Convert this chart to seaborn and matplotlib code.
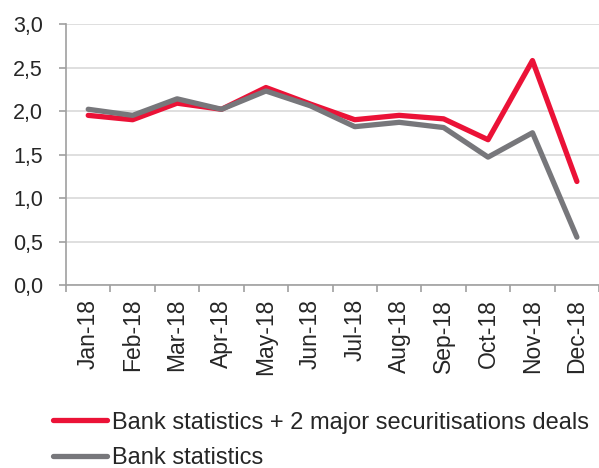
import pandas as pd
import matplotlib
matplotlib.use("Agg")
import matplotlib.pyplot as plt
import seaborn as sns
from matplotlib.ticker import FuncFormatter, FixedLocator

months = ["Jan-18", "Feb-18", "Mar-18", "Apr-18", "May-18", "Jun-18",
          "Jul-18", "Aug-18", "Sep-18", "Oct-18", "Nov-18", "Dec-18"]
with_deals = [1.95, 1.90, 2.09, 2.02, 2.27, 2.08, 1.90, 1.95, 1.91, 1.67, 2.58, 1.19]
bank_stats = [2.02, 1.95, 2.14, 2.02, 2.23, 2.06, 1.82, 1.87, 1.81, 1.47, 1.75, 0.55]
series_names = ["Bank statistics + 2 major securitisations deals", "Bank statistics"]

df = pd.DataFrame({
    "month": months * 2,
    "value": with_deals + bank_stats,
    "series": [series_names[0]] * len(months) + [series_names[1]] * len(months),
})

sns.set_style("white")
plt.rcParams["font.family"] = ["Liberation Sans", "DejaVu Sans"]

fig = plt.figure(figsize=(5.99, 4.68), dpi=100)
ax = fig.add_axes([0.1102, 0.391, 0.890, 0.5577])

palette = {series_names[0]: "#EB1237", series_names[1]: "#77777B"}
sns.lineplot(data=df, x="month", y="value", hue="series", palette=palette,
             linewidth=3.8, sort=False, ax=ax, legend=False)

ax.set_ylim(0, 3.0)
ax.set_yticks([0, 0.5, 1.0, 1.5, 2.0, 2.5, 3.0])
ax.yaxis.set_major_formatter(FuncFormatter(lambda v, p: f"{v:.1f}".replace(".", ",")))
ax.set_xlim(-0.5, len(months) - 0.5)
ax.set_xticks(range(len(months)))
ax.set_xticklabels(months, rotation=90)
ax.xaxis.set_minor_locator(FixedLocator([i - 0.5 for i in range(len(months) + 1)]))
ax.tick_params(axis="x", which="major", length=0, pad=9.9, labelsize=16.5)
ax.tick_params(axis="x", which="minor", length=4.8, width=1.2, color="#A0A0A0",
               direction="out", bottom=True)
ax.tick_params(axis="y", length=5, width=1.2, color="#A0A0A0", labelsize=15.5,
               pad=11.5, left=True)
ax.set_xlabel("")
ax.set_ylabel("")

ax.grid(axis="y", color="#D9D9D9", linewidth=1.2)
ax.set_axisbelow(True)
for side in ["top", "right"]:
    ax.spines[side].set_visible(False)
for side in ["left", "bottom"]:
    ax.spines[side].set_color("#A0A0A0")
    ax.spines[side].set_linewidth(1.2)

handles = [plt.Line2D([], [], color=palette[n], linewidth=3.8, solid_capstyle="round")
           for n in series_names]
fig.legend(handles, series_names, loc="upper left", bbox_to_anchor=(0.088, 0.1205),
           bbox_transform=fig.transFigure, frameon=False, fontsize=17,
           handlelength=2.3, handletextpad=0.2, labelspacing=0.56,
           borderpad=0, borderaxespad=0)

fig.savefig("out.png", dpi=100)
